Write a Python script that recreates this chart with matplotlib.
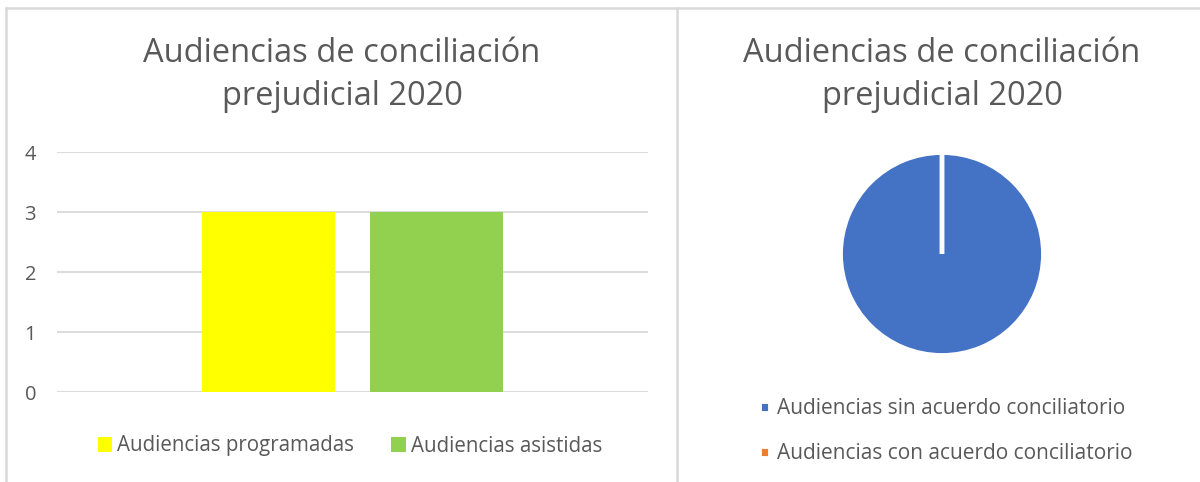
import numpy as np
import matplotlib.pyplot as plt
from matplotlib.lines import Line2D

plt.rcParams['font.family'] = ['Open Sans', 'DejaVu Sans']

# data
title = "Audiencias de conciliación\nprejudicial 2020"
bar_labels = ["Audiencias programadas", "Audiencias asistidas"]
bar_values = [3, 3]
bar_colors = ["#ffff00", "#92d050"]

pie_labels = ["Audiencias sin acuerdo conciliatorio", "Audiencias con acuerdo conciliatorio"]
pie_values = [3, 0]
pie_colors = ["#4472c4", "#ed7d31"]

text_col = "#595959"
grid_col = "#d9d9d9"

W, H = 1200, 482
fig = plt.figure(figsize=(W / 100, H / 100), dpi=100)

def px(x0, y0, x1, y1):
    # pixel box (top-left origin) -> figure fraction rect
    return [x0 / W, 1 - y1 / H, (x1 - x0) / W, (y1 - y0) / H]

# panel borders
for xs, ys in [((6, 6), (8, 482)), ((677, 677), (8, 482)), ((6, 1200), (8, 8))]:
    fig.add_artist(Line2D([x / W for x in xs], [1 - y / H for y in ys],
                          color=grid_col, lw=1.8))

# bar chart
ax = fig.add_axes(px(57, 152, 648, 392))
offsets = [-0.1425, 0.1425]
handles = []
for off, v, c, lab in zip(offsets, bar_values, bar_colors, bar_labels):
    handles.append(ax.bar(off, v, width=0.225, color=c, label=lab, zorder=2))
ax.set_xlim(-0.5, 0.5)
ax.set_ylim(0, 4)
ax.set_yticks(range(0, 5))
ax.set_xticks([])
ax.yaxis.grid(True, color=grid_col, lw=1.3, zorder=0)
for s in ax.spines.values():
    s.set_visible(False)
ax.tick_params(axis='y', length=0, pad=15, labelsize=14.5, labelcolor=text_col)
fig.text(342 / W, 1 - 75 / H, title, ha='center', va='center', fontsize=23.5,
         color=text_col, linespacing=1.4)
fig.legend(handles=handles, labels=bar_labels, loc='center',
           bbox_to_anchor=(350 / W, 1 - 446 / H), ncol=2, frameon=False,
           fontsize=14.8, labelcolor=text_col, handlelength=0.7, handleheight=0.7,
           handletextpad=0.25, columnspacing=1.8)

# pie chart
pax = fig.add_axes(px(842, 154, 1042, 354))
wedges, _ = pax.pie(pie_values, colors=pie_colors, startangle=90, counterclock=False,
                    wedgeprops=dict(edgecolor='white', linewidth=3.5))
pax.set_xlim(-0.985, 0.985)
pax.set_ylim(-0.985, 0.985)
fig.text(942 / W, 1 - 75 / H, title, ha='center', va='center', fontsize=23.5,
         color=text_col, linespacing=1.4)
fig.legend(handles=wedges, labels=pie_labels, loc='center',
           bbox_to_anchor=(946 / W, 1 - 431 / H), ncol=1, frameon=False,
           fontsize=15, labelcolor=text_col, handlelength=0.5, handleheight=0.5,
           handletextpad=0.35, labelspacing=1.15)

fig.savefig("out.png", dpi=100, facecolor='white')
